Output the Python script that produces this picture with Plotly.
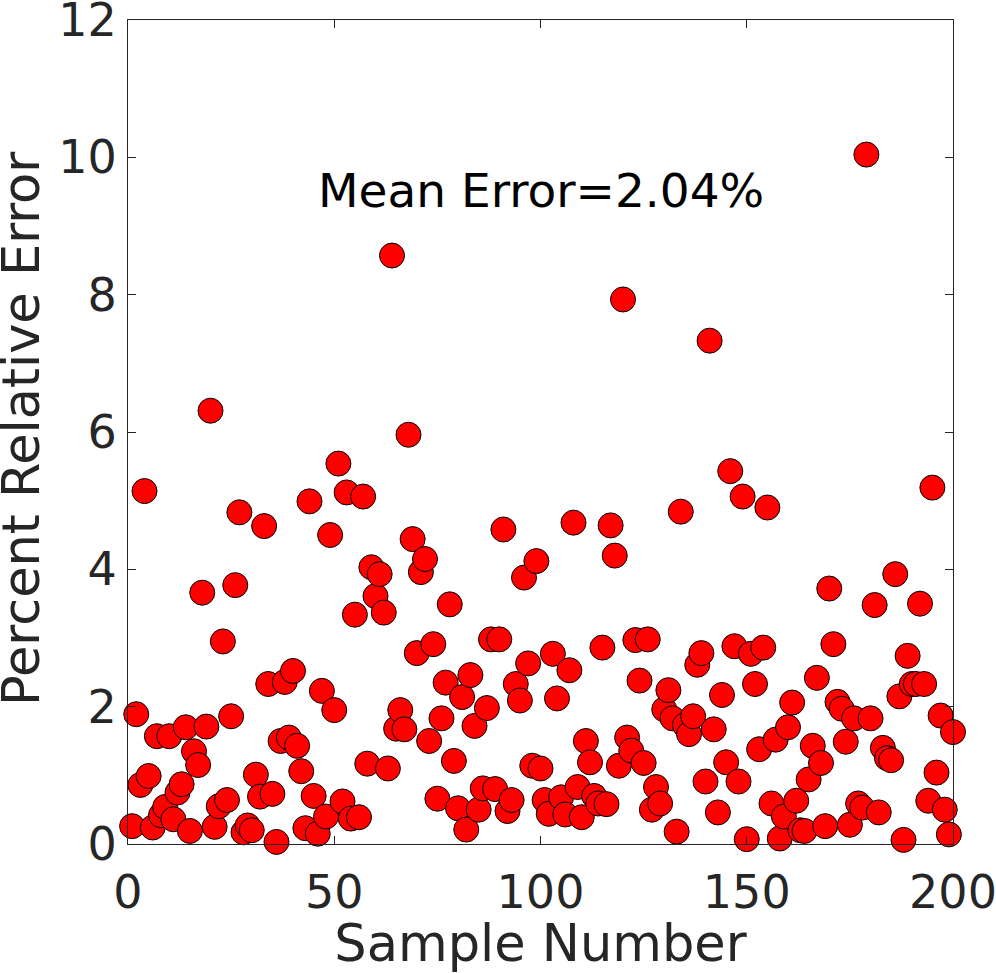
import plotly.graph_objects as go

# Sample numbers and percent relative errors
sample_number = list(range(1, 201))
percent_error = [
    0.26, 1.89, 0.86, 5.14, 0.99, 0.24, 1.57, 0.42, 0.54, 1.57,
    0.36, 0.75, 0.87, 1.70, 0.19, 1.35, 1.15, 3.66, 1.71, 6.31,
    0.25, 0.55, 2.95, 0.64, 1.86, 3.77, 4.83, 0.17, 0.27, 0.20,
    1.01, 0.69, 4.63, 2.33, 0.73, 0.03, 1.50, 2.36, 1.55, 2.52,
    1.43, 1.06, 0.23, 4.99, 0.70, 0.15, 2.23, 0.40, 4.50, 1.95,
    5.54, 0.62, 5.12, 0.37, 3.34, 0.39, 5.06, 1.17, 4.03, 3.61,
    3.93, 3.37, 1.10, 8.57, 1.68, 1.95, 1.67, 5.96, 4.44, 2.78,
    3.96, 4.15, 1.50, 2.91, 0.66, 1.83, 2.35, 3.49, 1.21, 0.52,
    2.14, 0.21, 2.46, 1.72, 0.50, 0.81, 1.98, 2.98, 0.80, 2.98,
    4.58, 0.48, 0.64, 2.33, 2.09, 3.88, 2.63, 1.14, 4.12, 1.10,
    0.64, 0.44, 2.77, 2.12, 0.68, 0.43, 2.53, 4.68, 0.83, 0.39,
    1.50, 1.19, 0.70, 0.59, 2.86, 0.58, 4.64, 4.20, 1.14, 7.93,
    1.55, 1.36, 2.97, 2.38, 1.18, 2.98, 0.50, 0.83, 0.59, 1.96,
    2.24, 1.83, 0.18, 4.84, 1.73, 1.60, 1.86, 2.61, 2.78, 0.91,
    7.33, 1.67, 0.46, 2.17, 1.19, 5.43, 2.88, 0.91, 5.06, 0.07,
    2.77, 2.33, 1.38, 2.86, 4.90, 0.59, 1.52, 0.08, 0.40, 1.70,
    2.06, 0.63, 0.20, 0.19, 0.94, 1.43, 2.42, 1.18, 0.26, 3.72,
    2.91, 2.07, 1.97, 1.49, 0.28, 1.83, 0.59, 0.53, 10.04, 1.83,
    3.48, 0.46, 1.40, 1.25, 1.22, 3.93, 2.15, 0.06, 2.74, 2.33,
    2.33, 3.50, 2.33, 0.63, 5.19, 1.04, 1.87, 0.50, 0.14, 1.63,
]
x_ticks = [0, 50, 100, 150, 200]
y_ticks = [0, 2, 4, 6, 8, 10, 12]
mean_label = "Mean Error=2.04%"
x_title = "Sample Number"
y_title = "Percent Relative Error"

AX = "#262626"
FONT = "DejaVu Sans"

fig = go.Figure()
fig.add_trace(go.Scatter(
    x=sample_number, y=percent_error, mode="markers",
    marker=dict(size=25, color="#ff0000", line=dict(color="black", width=1)),
    cliponaxis=False, hoverinfo="x+y",
))

fig.add_annotation(
    x=100, y=9.52, xref="x", yref="y", text=mean_label, showarrow=False,
    font=dict(family=FONT, size=47, color="black"),
    xanchor="center", yanchor="middle",
)

# y-axis title placed as a rotated annotation for precise positioning
fig.add_annotation(
    x=0, y=0.5036, xref="paper", yref="paper", text=y_title, showarrow=False,
    textangle=-90, xanchor="center", yanchor="middle", xshift=-107,
    font=dict(family=FONT, size=51, color=AX),
)

axis_common = dict(
    ticks="inside", ticklen=8, tickwidth=1, tickcolor=AX,
    showline=True, linecolor=AX, linewidth=1, mirror="ticks",
    showgrid=False, zeroline=False, automargin=False,
    ticklabeloverflow="allow",
    tickfont=dict(family=FONT, size=46, color=AX),
)

fig.update_xaxes(
    range=[0, 200], tickvals=x_ticks, ticktext=[str(v) for v in x_ticks],
    title=dict(text=x_title, font=dict(family=FONT, size=51, color=AX), standoff=10),
    ticklabelstandoff=8,
    **axis_common,
)
fig.update_yaxes(
    range=[0, 12], tickvals=y_ticks, ticktext=[str(v) for v in y_ticks],
    ticklabelstandoff=1,
    **axis_common,
)

fig.update_layout(
    width=996, height=973,
    margin=dict(l=128, r=43, t=20, b=129, pad=0),
    plot_bgcolor="white", paper_bgcolor="white",
    showlegend=False,
    font=dict(family=FONT, color=AX),
)

fig.write_html("out.html")
